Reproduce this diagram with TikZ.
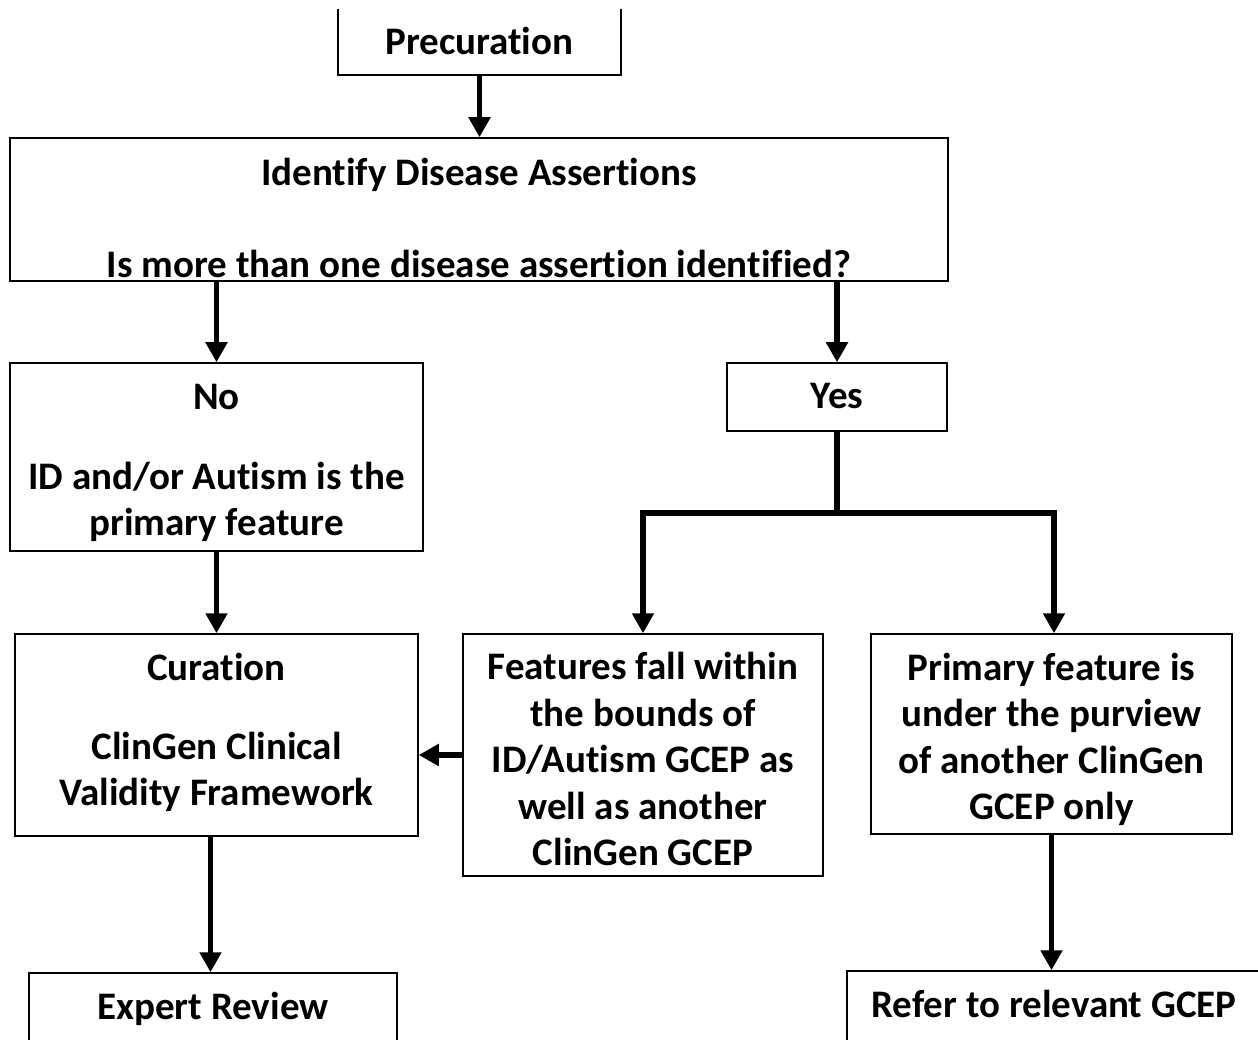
\documentclass[tikz,border=0pt]{standalone}
\usepackage{fontspec}
\setmainfont{Carlito}[Ligatures={CommonOff,ContextualOff}]
\usetikzlibrary{arrows.meta}

\tikzstyle{box}=[draw=black, line width=1.5pt, rectangle, align=center, inner sep=0pt, text depth=0pt, font=\fontsize{39}{46.5}\selectfont\bfseries]
\tikzstyle{flow}=[line width=5.5pt, -{Triangle[width=21pt,length=20pt]}]

\begin{document}
\begin{tikzpicture}[x=1pt, y=-1pt]
\useasboundingbox (0,0) rectangle (1258,1040);
\begin{scope}
\clip (0,10) rectangle (1258,1040);
\node [box, minimum width=283pt, minimum height=67pt, text height=26pt] (pre) at (479.5,41.5) {Precuration};
\node [box, minimum width=938pt, minimum height=143pt, text height=136pt] (ident) at (479,209.5)
  {Identify Disease Assertions\\[45.5pt]Is more than one disease assertion identified?};
\node [box, minimum width=413pt, minimum height=188pt, text height=157pt] (no) at (216.5,457)
  {No\\[33.5pt]ID and/or Autism is the\\primary feature};
\node [box, minimum width=220pt, minimum height=68pt, text height=23pt] (yes) at (837,397) {Yes};
\node [box, minimum width=403pt, minimum height=202pt, text height=141pt] (cur) at (216.5,735)
  {Curation\\[32.5pt]ClinGen Clinical\\Validity Framework};
\node [box, minimum width=360pt, minimum height=242pt, text height=221pt] (feat) at (643,755)
  {Features fall within\\the bounds of\\ID/Autism GCEP as\\well as another\\ClinGen GCEP};
\node [box, minimum width=361pt, minimum height=200pt, text height=171pt] (prim) at (1051.5,734)
  {Primary feature is\\under the purview\\of another ClinGen\\GCEP only};
\node [box, minimum width=368pt, minimum height=69pt, text height=24pt] (exp) at (213,1007.5) {Expert Review};
\node [box, minimum width=414pt, minimum height=70pt, text height=23pt] (ref) at (1054,1006) {Refer to relevant GCEP};

\coordinate (fork) at (837,513);

% connectors
\draw [flow] (pre.south) -- (ident.north -| pre.south);
\draw [flow] (no.north |- ident.south) -- (no.north);
\draw [flow] (yes.north |- ident.south) -- (yes.north);
\draw [flow] (yes.south) -- (fork) -| (feat.north);
\draw [flow] (fork) -| ([xshift=2.5pt]prim.north);
\draw [flow] (no.south) -- (cur.north);
\draw [flow] (feat.west) -- (cur.east |- feat.west);
\draw [flow] ([xshift=-6pt]cur.south) -- ([xshift=-6pt]cur.south |- exp.north);
\draw [flow] (prim.south) -- (prim.south |- ref.north);
\end{scope}
\end{tikzpicture}
\end{document}
